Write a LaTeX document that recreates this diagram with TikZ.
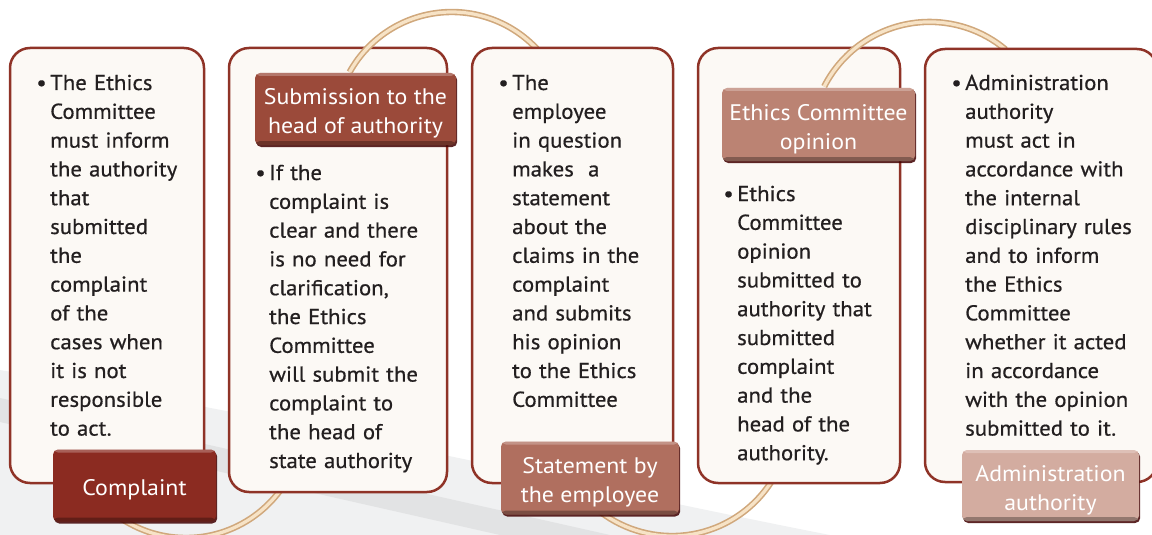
\documentclass[tikz,border=0pt]{standalone}
\usepackage{fontspec}
\setmainfont{PT Sans}[FakeStretch=1.06]
\newfontfamily\bodyfam{PT Sans}[FakeStretch=1.06,FakeBold=0.6]
\usetikzlibrary{shadows}
\definecolor{boxfill}{HTML}{FCF9F5}
\definecolor{boxline}{HTML}{8F3327}
\definecolor{txt}{HTML}{231F20}
\definecolor{labA}{HTML}{8B2B21}
\definecolor{labB}{HTML}{9B4A3A}
\definecolor{labC}{HTML}{B06F5F}
\definecolor{labD}{HTML}{BB8373}
\definecolor{labE}{HTML}{D3ACA0}
\definecolor{arcdark}{HTML}{D0A87C}
\definecolor{arclight}{HTML}{F7E3C6}
\definecolor{bgA}{HTML}{F0F1F2}
\definecolor{bgB}{HTML}{E2E3E4}
\newcommand\bodysize{\bodyfam\fontsize{21.5pt}{28.8pt}\selectfont}
\newcommand\tagsize{\fontsize{22.5pt}{29pt}\selectfont}
\newcommand\bul{\llap{\textbullet\hspace{3.5pt}}}
\tikzset{
  panel/.style={draw=boxline, line width=2.5pt, fill=boxfill, rounded corners=20pt, inner sep=0pt},
  body/.style={inner sep=0pt, anchor=base west, align=left, text width=190pt, text=txt, font=\bodysize},
  tagbox/.style={rounded corners=5pt, inner sep=0pt,
    drop shadow={shadow xshift=1.2pt, shadow yshift=-2pt, opacity=0.85, fill=black!75!red},
    path picture={
      \fill[white,opacity=0.25] (path picture bounding box.north west) rectangle ([yshift=-3pt]path picture bounding box.north east);
      \fill[black,opacity=0.30] ([yshift=4pt]path picture bounding box.south west) rectangle (path picture bounding box.south east);
    }},
  tagtext/.style={inner sep=0pt, text=white, font=\tagsize, align=center, yshift=-4.5pt},
  link/.style={draw=arcdark, double=arclight, double distance=3.2pt, line width=1.6pt}
}
\begin{document}
\begin{tikzpicture}[x=1pt,y=-1pt]
\useasboundingbox (0,0) rectangle (1152,535);
\clip (0,0) rectangle (1152,535);
% background swoosh
\fill[bgA] (0,370) .. controls (300,420) and (600,490) .. (830,535) -- (0,535) -- cycle;
\fill[bgB] (0,398) -- (610,535) -- (500,535) -- (0,422) -- cycle;

% panels and arcs (layered)
\node[panel, minimum width=194pt, minimum height=435pt] (box1) at (107,265.5) {};
\path (186,421) ++(150:117) coordinate (a3s);
\draw[link] (a3s) arc[start angle=150, end angle=35, radius=117];
\node[panel, minimum width=218pt, minimum height=444pt] (box2) at (338,270) {};
\path (451.7,128.7) ++(-151:116.7) coordinate (a1s);
\draw[link] (a1s) arc[start angle=-151, end angle=-42, radius=116.7];
\node[panel, minimum width=201pt, minimum height=435pt] (box3) at (572.5,265.5) {};
\path (672,418) ++(150:118) coordinate (a4s);
\draw[link] (a4s) arc[start angle=150, end angle=32, radius=118];
\node[panel, minimum width=202pt, minimum height=435pt] (box4) at (799,265.5) {};
\path (929.6,140.2) ++(-153:118.3) coordinate (a2s);
\draw[link] (a2s) arc[start angle=-153, end angle=-50, radius=118.3];
\node[panel, minimum width=232pt, minimum height=433pt] (box5) at (1041,265.5) {};

% texts
\node[body] (t1) at (50,90) {\bul The Ethics\\Committee\\must inform\\the authority\\that\\submitted\\the\\complaint\\of the\\cases when\\it is not\\responsible\\to act.};
\node[body] (t2) at (269,180) {\bul If the\\complaint is\\clear and there\\is no need for\\clarification,\\the Ethics\\Committee\\will submit the\\complaint to\\the head of\\state authority};
\node[body] (t3) at (512,90) {\bul The\\employee\\in question\\makes\ \ a\\statement\\about the\\claims in the\\complaint\\and submits\\his opinion\\to the Ethics\\Committee};
\node[body] (t4) at (737,201) {\bul Ethics\\Committee\\opinion\\submitted to\\authority that\\submitted\\complaint\\and the\\head of the\\authority.};
\node[body] (t5) at (965,90) {\bul Administration\\authority\\must act in\\accordance with\\the internal\\disciplinary rules\\and to inform\\the Ethics\\Committee\\whether it acted\\in accordance\\with the opinion\\submitted to it.};

% tags
\node[tagbox, fill=labA, minimum width=163pt, minimum height=72pt] (l1) at (134.5,485.5) {};
\node[tagtext] (l1t) at (l1.center) {Complaint};
\node[tagbox, fill=labB, minimum width=201pt, minimum height=72pt] (l2) at (355.5,109) {};
\node[tagtext] (l2t) at (l2.center) {Submission to the\\head of authority};
\node[tagbox, fill=labC, minimum width=178pt, minimum height=73pt] (l3) at (590,478) {};
\node[tagtext] (l3t) at (l3.center) {Statement by\\the employee};
\node[tagbox, fill=labD, minimum width=193pt, minimum height=73pt] (l4) at (818.5,124.5) {};
\node[tagtext] (l4t) at (l4.center) {Ethics Committee\\opinion};
\node[tagbox, fill=labE, minimum width=177pt, minimum height=71pt] (l5) at (1050.5,485.5) {};
\node[tagtext] (l5t) at (l5.center) {Administration\\authority};
\end{tikzpicture}
\end{document}
